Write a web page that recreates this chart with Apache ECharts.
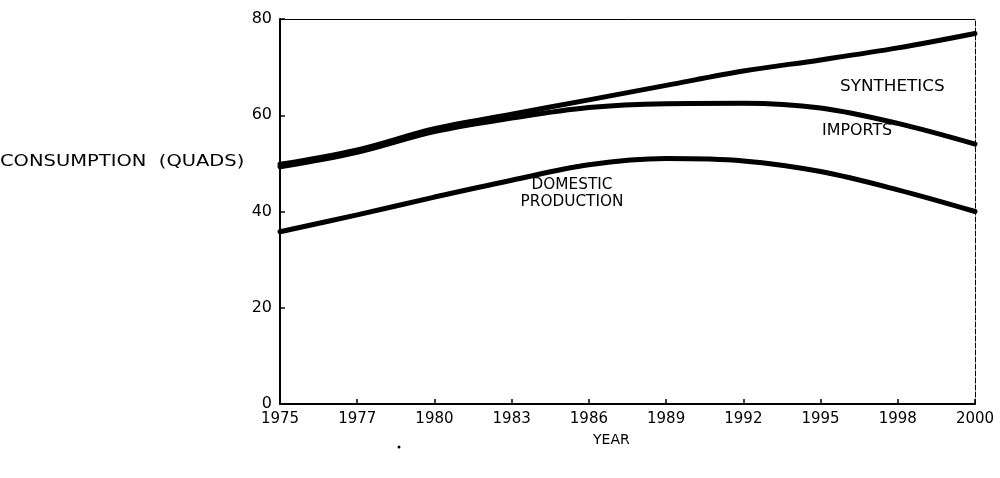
<!DOCTYPE html>
<html>
<head>
<meta charset="utf-8">
<script src="https://cdn.jsdelivr.net/npm/echarts@6/dist/echarts.min.js"></script>
<style>
  html, body { margin: 0; padding: 0; background: #fff; }
  #chart { width: 1000px; height: 478px; }
</style>
</head>
<body>
<div id="chart"></div>
<script>
// x axis categories (evenly spaced on the original)
const years = ['1975', '1977', '1980', '1983', '1986', '1989', '1992', '1995', '1998', '2000']
// upper line: total consumption incl. synthetics
const totalWithSynthetics = [49.8, 52.8, 57.2, 60.2, 63.2, 66.2, 69.2, 71.5, 74.0, 77.0]
// middle line: domestic + imports
const domesticPlusImports = [49.3, 52.3, 56.6, 59.4, 61.6, 62.4, 62.5, 61.5, 58.3, 54.0]
// lower line: domestic production
const domesticProduction = [35.8, 39.3, 43.0, 46.5, 49.7, 51.0, 50.5, 48.3, 44.5, 40.0]
const yTicks = [0, 20, 40, 60, 80]

const FONT = '"DejaVu Sans", "Liberation Sans", sans-serif'
const chart = echarts.init(document.getElementById('chart'), null, { renderer: 'canvas' })

const lineSeries = (data, name) => ({
  name, type: 'line', data,
  xAxisIndex: 0, yAxisIndex: 0,
  smooth: 0.35, showSymbol: false, symbol: 'none',
  lineStyle: { color: '#000', width: 5, cap: 'round' },
  z: 3,
})

// wide typewriter-like annotation text (scaled about its own anchor)
const label = (text, x, y, size, sx, align) => ({
  type: 'text', x, y, scaleX: sx,
  style: { text, fill: '#000', font: size + 'px ' + FONT, align: align || 'left', lineHeight: size + 2 },
})

const option = {
  animation: false,
  backgroundColor: '#fff',
  grid: { left: 280, right: 25, top: 19, bottom: 74, show: false },
  xAxis: [
    {
      type: 'category', data: years, boundaryGap: false, gridIndex: 0,
      axisLine: { onZero: false, lineStyle: { color: '#000', width: 2 } },
      axisTick: { inside: true, length: 5, lineStyle: { color: '#000', width: 1.5 } },
      axisLabel: { color: '#000', fontSize: 15, fontFamily: FONT, margin: 8 },
      splitLine: { show: false },
    },
    {
      type: 'category', data: years, boundaryGap: false, gridIndex: 0, position: 'top',
      axisLine: { show: true, onZero: false, lineStyle: { color: '#000', width: 1 } },
      axisTick: { show: false }, axisLabel: { show: false }, splitLine: { show: false },
    },
  ],
  yAxis: [
    {
      type: 'value', min: 0, max: 80, interval: 20, gridIndex: 0,
      axisLine: { show: true, onZero: false, lineStyle: { color: '#000', width: 2 } },
      axisTick: { show: true, inside: true, length: 5, lineStyle: { color: '#000', width: 1.5 } },
      axisLabel: {
        color: '#000', fontSize: 16, fontFamily: FONT, margin: 8,
        formatter: v => (yTicks.includes(v) ? String(v) : ''),
      },
      splitLine: { show: false },
    },
    {
      type: 'value', min: 0, max: 80, interval: 20, gridIndex: 0, position: 'right',
      axisLine: { show: true, onZero: false, lineStyle: { color: '#000', width: 1, type: [5, 2] } },
      axisTick: { show: false }, axisLabel: { show: false }, splitLine: { show: false },
    },
  ],
  series: [
    lineSeries(totalWithSynthetics, 'Synthetics'),
    lineSeries(domesticPlusImports, 'Imports'),
    lineSeries(domesticProduction, 'Domestic production'),
  ],
  graphic: [
    label('CONSUMPTION  (QUADS)', 0, 154, 15, 1.3),
    label('YEAR', 593, 432, 14, 1.0),
    label('SYNTHETICS', 840, 79, 15, 1.12),
    label('IMPORTS', 822, 123, 15, 1.06),
    label('DOMESTIC\nPRODUCTION', 572, 177, 15, 1.02, 'center'),
    {
      type: 'circle', x: 399, y: 447,
      shape: { cx: 0, cy: 0, r: 1.5 }, style: { fill: '#000' },
    },
  ],
}

chart.setOption(option)
</script>
</body>
</html>
